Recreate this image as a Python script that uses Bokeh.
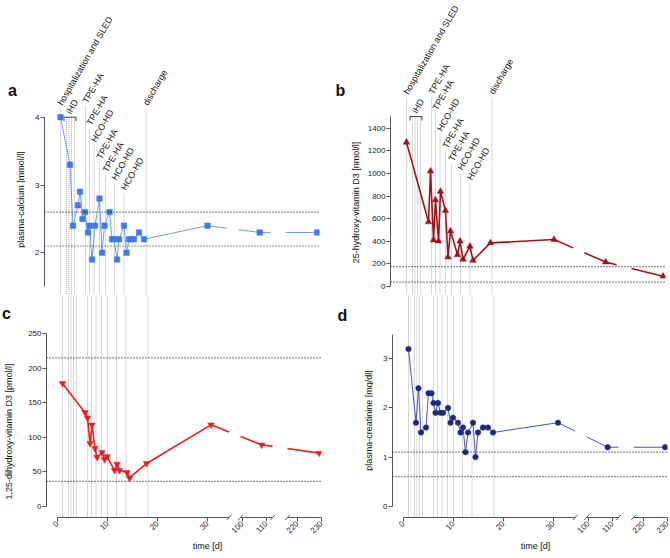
import math
from bokeh.plotting import figure
from bokeh.models import Range1d, FixedTicker, Span
from bokeh.layouts import column, row
from bokeh.embed import file_html
from bokeh.resources import INLINE
from bokeh.core.properties import value

# ---------------- data ----------------
ca_day = [1.0, 2.9, 3.5, 4.5, 4.9, 5.4, 5.9, 6.5, 6.8, 7.3, 7.9, 8.8, 9.3, 9.8, 10.8,
          11.3, 11.7, 12.3, 12.7, 13.7, 14.2, 14.7, 15.2, 15.7, 16.7, 17.7, 30.4, 108, 229]
ca_val = [4.0, 3.3, 2.4, 2.7, 2.9, 2.5, 2.6, 2.3, 2.4, 1.9, 2.4, 2.8, 2.0, 2.4, 2.6,
          2.2, 2.2, 1.9, 2.2, 2.4, 2.0, 2.2, 2.2, 2.2, 2.3, 2.2, 2.4, 2.3, 2.3]
ca_ref = [2.1, 2.6]

d25_day = [1.0, 5.4, 5.8, 6.4, 6.8, 7.4, 7.8, 8.8, 9.3, 9.8, 11.2, 11.7, 12.3, 13.7,
           14.3, 17.8, 30.5, 108, 229]
d25_val = [1275, 570, 1020, 410, 765, 400, 840, 670, 260, 490, 280, 400, 240, 355,
           230, 385, 415, 215, 90]
d25_ref = [37, 175]

d125_day = [1.0, 5.5, 6.0, 6.5, 6.9, 7.5, 7.9, 8.9, 9.4, 9.9, 11.4, 11.9, 12.4, 13.9,
            14.4, 17.8, 30.7, 108, 229]
d125_val = [178, 136, 128, 91, 118, 84, 71, 78, 68, 72, 52, 61, 52, 49, 41, 62, 118, 89, 77]
d125_ref = [36, 215]

cr_day = [1.0, 2.5, 3.0, 3.5, 4.5, 5.0, 5.6, 6.0, 6.4, 6.9, 7.4, 7.9, 8.9, 9.4, 9.9,
          10.9, 11.4, 11.9, 12.4, 12.9, 13.9, 14.4, 14.9, 15.9, 16.9, 17.9, 30.9, 108, 229]
cr_val = [3.2, 1.7, 2.4, 1.5, 1.6, 2.3, 2.3, 2.1, 1.9, 2.1, 1.9, 1.9, 2.0, 1.7, 1.8,
          1.7, 1.5, 1.6, 1.1, 1.5, 1.7, 1.0, 1.5, 1.6, 1.6, 1.5, 1.7, 1.2, 1.2]
cr_ref = [0.6, 1.1]

event_names = ["hospitalization and SLED", "TPE-HA", "TPE-HA", "HCO-HD", "TPE-HA",
               "TPE-HA", "HCO-HD", "HCO-HD", "discharge"]
event_days = [1.0, 6.0, 6.8, 7.7, 8.8, 10.0, 11.8, 13.7, 18.1]
ihd_days = [2.2, 2.7, 3.2, 3.8]
ihd_span = [1.7, 4.1]

x_tick_days = [0, 10, 20, 30, 100, 110, 220, 230]

# ---------------- broken time axis ----------------
FONT = "Liberation Sans"
BREAKS = [(34.33, 36.6), (43.0, 46.0)]
AXIS_SEGS = [(0.0, 34.33), (36.6, 43.0), (46.0, 52.8)]
FRAME_W = 275
X0 = -2.2          # x-range start (u units, 5 px per u)


def tu(d):
    if d <= 40:
        return float(d)
    if d <= 160:
        return 37.0 + (d - 100.0) * 0.48
    return 48.0 + (d - 220.0) * 0.48


def split_line(us, vs):
    xs_list, ys_list = [], []
    cx, cy = [us[0]], [vs[0]]
    for i in range(1, len(us)):
        x0, y0, x1, y1 = us[i - 1], vs[i - 1], us[i], vs[i]
        for b0, b1 in BREAKS:
            if x0 < b0 and x1 > b1:
                ya = y0 + (y1 - y0) * (b0 - x0) / (x1 - x0)
                yb = y0 + (y1 - y0) * (b1 - x0) / (x1 - x0)
                cx.append(b0); cy.append(ya)
                xs_list.append(cx); ys_list.append(cy)
                cx, cy = [b1], [yb]
        cx.append(x1); cy.append(y1)
    xs_list.append(cx); ys_list.append(cy)
    return xs_list, ys_list


def text_fig(w, h, items):
    """A frame-only strip that carries free text (panel letters, axis titles)."""
    p = figure(title=None, frame_width=w, frame_height=h, x_range=Range1d(0, w),
               y_range=Range1d(h, 0), output_backend="svg", toolbar_location=None,
               x_axis_location=None, y_axis_location=None, min_border=0)
    p.grid.visible = False
    p.outline_line_color = None
    p.background_fill_color = "white"
    p.border_fill_color = "white"
    for (x, y, txt, ang, size, style) in items:
        p.text(x=[x], y=[y], text=[txt], angle=ang, text_font=value(FONT),
               text_font_size=size, text_font_style=style, text_color="#111111",
               text_align="center", text_baseline="middle")
    return p


def panel(top_px, bot_px, cal, bounds, ticks, days, vals, marker, msize, mcolor,
          lcolor, lwidth, refs, left_border, right_border, bottom,
          label_tops=None, bracket_y=None):
    (v1, p1), (v2, p2) = cal
    sc = (v2 - v1) / (p2 - p1)
    y0 = v1 + (bot_px - p1) * sc
    y1 = v1 + (top_px - p1) * sc
    p = figure(title=None, frame_width=FRAME_W, frame_height=bot_px - top_px,
               x_range=Range1d(X0, X0 + FRAME_W / 5.0), y_range=Range1d(y0, y1),
               output_backend="svg", toolbar_location=None,
               min_border_left=left_border, min_border_right=right_border,
               min_border_top=0, min_border_bottom=(20 if bottom else 0))
    p.extra_y_ranges = {"px": Range1d(bot_px, top_px)}
    p.outline_line_color = None
    p.grid.visible = False
    p.background_fill_color = "white"
    p.border_fill_color = "white"

    line_px = bot_px - 3
    ev_col = "#b0b0b0"
    xs = [tu(d) for d in event_days] + [tu(d) for d in ihd_days]
    if label_tops is not None:
        ys0 = list(label_tops) + [bracket_y] * len(ihd_days)
        p.segment(x0=xs, y0=ys0, x1=xs, y1=[bot_px] * len(xs), y_range_name="px",
                  line_color=ev_col, line_dash="1 1", line_width=1)
        p.text(x=[tu(d) - 0.1 for d in event_days], y=[t - 4 for t in label_tops],
               text=event_names, angle=math.pi / 3, y_range_name="px",
               text_font=value(FONT), text_font_size="9px", text_color="#111111",
               text_align="left", text_baseline="middle")
        bx = [ihd_span[0], ihd_span[0], ihd_span[1], ihd_span[1]]
        by = [bracket_y + 4, bracket_y, bracket_y, bracket_y + 4]
        p.line(x=bx, y=by, y_range_name="px", line_color="#444444", line_width=1)
        p.text(x=[2.6], y=[bracket_y - 4], text=["iHD"], angle=math.pi / 3,
               y_range_name="px", text_font=value(FONT), text_font_size="9px",
               text_color="#111111", text_align="left", text_baseline="middle")
    else:
        p.segment(x0=xs, y0=[top_px] * len(xs), x1=xs, y1=[line_px] * len(xs),
                  y_range_name="px", line_color=ev_col, line_dash="1 1", line_width=1)

    for r in refs:
        p.add_layout(Span(location=r, dimension="width", line_color="#222222",
                          line_dash="1 2", line_width=1.2))

    us = [tu(d) for d in days]
    lx, ly = split_line(us, vals)
    p.multi_line(xs=lx, ys=ly, line_color=lcolor, line_width=lwidth)
    p.scatter(x=us, y=vals, marker=marker, size=msize, fill_color=mcolor,
              line_color=mcolor, line_width=0.5)

    ya = p.yaxis[0]
    ya.bounds = bounds
    ya.ticker = FixedTicker(ticks=ticks, minor_ticks=[])
    ya.major_label_text_font = FONT
    ya.major_label_text_font_size = "8px"
    ya.major_label_text_color = "#222222"
    ya.major_label_standoff = 1
    ya.axis_line_color = "#555555"
    ya.major_tick_line_color = "#555555"
    ya.major_tick_in = 0
    ya.major_tick_out = 4
    ya.minor_tick_line_color = None

    xa = p.xaxis[0]
    if bottom:
        tick_us = [tu(d) for d in x_tick_days]
        xa.ticker = FixedTicker(ticks=tick_us, minor_ticks=[])
        xa.major_label_overrides = {u: str(d) for u, d in zip(tick_us, x_tick_days)}
        xa.major_label_orientation = math.pi / 4
        xa.axis_line_color = None
        xa.major_tick_line_color = "#555555"
        xa.major_tick_in = 3
        xa.major_tick_out = 1
        xa.minor_tick_line_color = None
        xa.major_label_text_font = FONT
        xa.major_label_text_font_size = "8px"
        xa.major_label_text_color = "#222222"
        xa.major_label_standoff = 1
        p.segment(x0=[s[0] for s in AXIS_SEGS], y0=[line_px] * 3,
                  x1=[s[1] for s in AXIS_SEGS], y1=[line_px] * 3,
                  y_range_name="px", line_color="#555555", line_width=1)
        sl = [b for br in BREAKS for b in br]
        p.segment(x0=[b - 0.5 for b in sl], y0=[line_px + 2.8] * 4,
                  x1=[b + 0.5 for b in sl], y1=[line_px - 2.8] * 4,
                  y_range_name="px", line_color="#555555", line_width=1)
    else:
        xa.visible = False
    return p


tops_a = [108, 106, 128, 145, 162, 175, 183, 193, 108]
tops_b = [97, 97, 113, 134, 151, 164, 173, 183, 97]
R90 = math.pi / 2

pa = panel(0, 295, ((4, 116.7), (2, 252.3)), (1.5, 4), [2, 3, 4], ca_day, ca_val,
           "square", 5.5, "#3d7af0", "#6e9cf2", 1, ca_ref, 19, 16, False,
           label_tops=tops_a, bracket_y=116.7)
pb = panel(0, 295, ((0, 285.9), (1400, 127.7)), (0, 1500), list(range(0, 1401, 200)),
           d25_day, d25_val, "triangle", 6.5, "#a01418", "#a01418", 1.6, d25_ref,
           27, 5, False, label_tops=tops_b, bracket_y=116)
pc = panel(295, 520, ((0, 505.7), (250, 333.3)), (0, 250), list(range(0, 251, 50)),
           d125_day, d125_val, "inverted_triangle", 6.5, "#ee1c1c", "#ee1c1c", 1.6,
           d125_ref, 19, 16, True)
pd = panel(295, 520, ((0, 505.7), (3, 358.3)), (0, 3.5), [0, 1, 2, 3], cr_day, cr_val,
           "circle", 5.5, "#1b2a86", "#4a58a8", 1, cr_ref, 19, 5, True)

la = text_fig(25, 295, [(12, 90, "a", 0, "16px", "bold"),
                        (20, 199, "plasma-calcium [mmol/l]", R90, "9px", "normal")])
lb = text_fig(28, 295, [(5, 90, "b", 0, "16px", "bold"),
                        (20, 202, "25-hydroxy-vitamin D3 [nmol/l]", R90, "9px", "normal")])
lc = text_fig(25, 245, [(6, 18, "c", 0, "16px", "bold"),
                        (8, 136, "1,25-dihydroxy-vitamin D3 [pmol/l]", R90, "9px", "normal")])
ld = text_fig(36, 245, [(5, 20, "d", 0, "16px", "bold"),
                        (31, 125, "plasma-creatinine [mg/dl]", R90, "9px", "normal")])
lt = text_fig(670, 18, [(207, 5.5, "time [d]", 0, "9px", "normal"),
                        (535, 5.5, "time [d]", 0, "9px", "normal")])

layout = column(row(la, pa, lb, pb), row(lc, pc, ld, pd), lt)
open("out.html", "w").write(file_html(layout, INLINE))
